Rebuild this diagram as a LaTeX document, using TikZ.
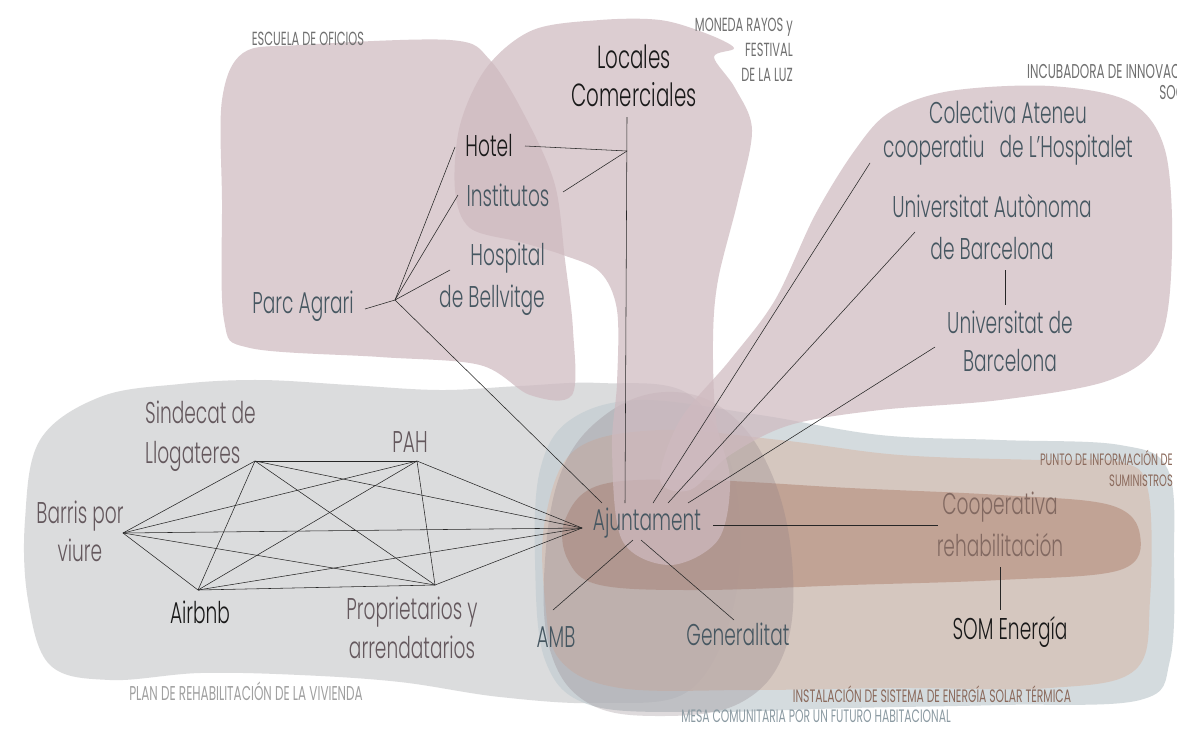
\documentclass[tikz,border=0pt]{standalone}
\usepackage{fontspec}
\setmainfont{Poppins Light}[FakeStretch=0.62]
\newfontfamily\capsfam{Poppins}[FakeStretch=0.6]
\definecolor{pinkb}{RGB}{207,186,192}
\definecolor{greyb}{RGB}{216,217,218}
\definecolor{blueb}{RGB}{196,206,210}
\definecolor{beigeb}{RGB}{214,192,180}
\definecolor{brownb}{RGB}{186,150,134}
\definecolor{darkb}{RGB}{140,125,132}
\definecolor{teal}{RGB}{70,87,97}
\definecolor{mauve}{RGB}{100,88,93}
\definecolor{coopc}{RGB}{130,105,97}
\definecolor{blk}{RGB}{25,25,25}
\definecolor{smallgrey}{RGB}{112,112,112}
\definecolor{smallbrown}{RGB}{139,106,92}
\definecolor{smallblue}{RGB}{140,155,163}
\definecolor{plangrey}{RGB}{160,160,160}
\begin{document}
\begin{tikzpicture}[x=1pt,y=-1pt,
  blob/.style={fill opacity=0.72},
  lbl/.style={font=\fontsize{30}{40}\selectfont, inner sep=0pt, align=center},
  small/.style={font=\capsfam\fontsize{18}{24}\selectfont, inner sep=0pt},
  link/.style={draw=black!85, line width=0.55pt}]
\useasboundingbox (0,0) rectangle (1177,729);
\clip (0,0) rectangle (1177,729);
\fill[white] (0,0) rectangle (1177,729);
% ---- blobs ----
\fill[greyb, fill opacity=0.9] plot[smooth cycle, tension=0.6] coordinates {(25,520) (40,440) (100,397) (180,384) (260,380) (350,385) (440,390) (520,386) (600,383) (690,395) (735,480) (735,600) (690,690) (600,703) (500,697) (400,682) (300,675) (200,673) (110,680) (50,665) (28,600)};
\fill[blueb, blob] plot[smooth cycle, tension=0.6] coordinates {(540,470) (570,420) (640,400) (760,415) (880,435) (1000,440) (1120,445) (1168,470) (1174,560) (1170,660) (1140,700) (1000,705) (850,708) (700,712) (590,705) (545,660) (535,560)};
\fill[beigeb, blob] plot[smooth cycle, tension=0.6] coordinates {(545,520) (575,450) (660,430) (780,440) (900,455) (1040,460) (1120,462) (1148,490) (1150,600) (1135,670) (1050,688) (900,688) (750,690) (620,688) (560,660) (545,600)};
\fill[brownb, blob] plot[smooth cycle, tension=0.6] coordinates {(565,520) (600,485) (700,480) (850,488) (1000,495) (1110,505) (1140,535) (1120,570) (1000,580) (850,585) (700,590) (600,585) (568,560)};
\fill[darkb, fill opacity=0.28] plot[smooth cycle, tension=0.65] coordinates {(545,560) (562,470) (605,415) (665,392) (725,410) (770,470) (792,560) (785,650) (740,703) (660,716) (588,703) (550,650)};
\fill[pinkb, blob] plot[smooth cycle, tension=0.55] coordinates {(222,100) (243,53) (300,45) (450,40) (490,60) (527,120) (555,185) (565,260) (573,330) (572,395) (530,395) (480,365) (380,357) (250,348) (224,320) (222,200)};
\fill[pinkb, blob] plot[smooth cycle, tension=0.55] coordinates {(487,67) (533,30) (600,20) (660,20) (705,33) (734,48) (714,57) (735,88) (752,130) (738,200) (718,280) (713,340) (716,420) (730,480) (718,540) (670,565) (622,540) (612,450) (617,383) (617,310) (600,272) (563,255) (520,242) (470,228) (455,190) (460,125)};
\fill[pinkb, blob] plot[smooth cycle, tension=0.55] coordinates {(855,150) (890,112) (950,91) (1050,86) (1130,102) (1165,150) (1172,250) (1160,340) (1110,380) (1000,400) (880,410) (790,425) (730,455) (690,490) (660,480) (680,420) (730,360) (775,300) (815,215)};
% ---- small labels ----
\node[small, text=smallgrey, font=\capsfam\fontsize{19}{24}\selectfont] (escuela) at (308,39) {ESCUELA DE OFICIOS};
\node[small, text=smallgrey, align=right, anchor=east, font=\capsfam\fontsize{19}{25}\selectfont] (moneda) at (793,50) {MONEDA RAYOS y\\FESTIVAL\\DE LA LUZ};
\node[small, text=smallgrey, align=right, anchor=west, font=\capsfam\fontsize{20}{21}\selectfont] (incub) at (1027,80) {INCUBADORA DE INNOVACIÓN\\SOCIAL};
\node[small, text=smallbrown, align=right, anchor=east, font=\capsfam\fontsize{16.5}{21}\selectfont] (punto) at (1173,468) {PUNTO DE INFORMACIÓN DE\\SUMINISTROS};
\node[small, text=smallbrown] (instal) at (932,694) {INSTALACIÓN DE SISTEMA DE ENERGÍA SOLAR TÉRMICA};
\node[small, text=smallblue] (mesa) at (816,716) {MESA COMUNITARIA POR UN FUTURO HABITACIONAL};
\node[small, text=plangrey, font=\capsfam\fontsize{20}{24}\selectfont] (plan) at (246,691) {PLAN DE REHABILITACIÓN DE LA VIVIENDA};
% ---- main labels ----
\node[lbl, text=blk, font=\fontsize{32}{38}\selectfont] (loc) at (634,76) {Locales\\Comerciales};
\node[lbl, text=blk] (hotel) at (489,146) {Hotel};
\node[lbl, text=teal] (inst) at (508,195) {Institutos};
\node[lbl, text=teal, align=right, anchor=east, font=\fontsize{30}{42}\selectfont] (hosp) at (545,279) {Hospital\\de Bellvitge};
\node[lbl, text=teal] (parc) at (303,306) {Parc Agrari};
\node[lbl, text=teal, font=\fontsize{30}{34}\selectfont] (colect) at (1008,133) {Colectiva Ateneu\\cooperatiu\enspace de L’Hospitalet};
\node[lbl, text=teal, font=\fontsize{30}{42}\selectfont] (uab) at (992,227) {Universitat Autònoma\\de Barcelona};
\node[lbl, text=teal, font=\fontsize{30}{38}\selectfont] (ub) at (1010,341) {Universitat de\\Barcelona};
\node[lbl, text=mauve, align=left, anchor=west] (sind) at (145,436) {Sindecat de\\Llogateres};
\node[lbl, text=mauve] (pah) at (410,442) {PAH};
\node[lbl, text=mauve, font=\fontsize{30}{38}\selectfont] (barris) at (80,531) {Barris por\\viure};
\node[lbl, text=blk] (airbnb) at (200,612) {Airbnb};
\node[lbl, text=mauve, font=\fontsize{30}{39}\selectfont] (prop) at (412,628) {Proprietarios y\\arrendatarios};
\node[lbl, text=teal] (ajunt) at (647,523) {Ajuntament};
\node[lbl, text=coopc, font=\fontsize{30}{42}\selectfont] (coop) at (1000,524) {Cooperativa\\rehabilitación};
\node[lbl, text=blk] (som) at (1010,632) {SOM Energía};
\node[lbl, text=teal] (amb) at (556,637) {AMB};
\node[lbl, text=teal] (gen) at (738,634) {Generalitat};
% ---- connector end points ----
\coordinate (hB) at (123,533);
\coordinate (hS) at (255,461);
\coordinate (hP) at (417,461);
\coordinate (hA) at (198,590);
\coordinate (hR) at (435,585);
\coordinate (hJ) at (582,528);
\coordinate (pH) at (395,300);
\coordinate (parE) at (365,309);
\coordinate (hotW) at (455,147);
\coordinate (insW) at (458,195);
\coordinate (hosW) at (450,270);
\coordinate (ajNW) at (602,503);
\coordinate (locS) at (627,117);
\coordinate (jLoc) at (627,151);
\coordinate (ajN) at (625,503);
\coordinate (hotE) at (525,146);
\coordinate (insE) at (563,192);
\coordinate (colS) at (870,163);
\coordinate (ajN1) at (653,503);
\coordinate (uabS) at (915,232);
\coordinate (ajN2) at (668,503);
\coordinate (ubW) at (935,347);
\coordinate (ajN3) at (688,503);
\coordinate (uabB) at (1005,270);
\coordinate (ubT) at (1005,305);
\coordinate (ajE) at (713,525);
\coordinate (coW) at (938,525);
\coordinate (coB) at (1000,567);
\coordinate (somT) at (1000,610);
\coordinate (ajS1) at (633,540);
\coordinate (ambT) at (553,610);
\coordinate (ajS2) at (641,540);
\coordinate (genT) at (734,620);
% ---- connectors ----
\foreach \a/\b in {hB/hS,hB/hP,hB/hA,hB/hR,hB/hJ,hS/hP,hS/hA,hS/hR,hS/hJ,hP/hA,hP/hR,hP/hJ,hA/hR,hA/hJ,hR/hJ}
  \draw[link] (\a) -- (\b);
\foreach \b in {parE,hotW,insW,hosW,ajNW}
  \draw[link] (pH) -- (\b);
\draw[link] (locS) -- (ajN);
\draw[link] (hotE) -- (jLoc);
\draw[link] (insE) -- (jLoc);
\draw[link] (colS) -- (ajN1);
\draw[link] (uabS) -- (ajN2);
\draw[link] (ubW) -- (ajN3);
\draw[link] (uabB) -- (ubT);
\draw[link] (ajE) -- (coW);
\draw[link] (coB) -- (somT);
\draw[link] (ajS1) -- (ambT);
\draw[link] (ajS2) -- (genT);
\end{tikzpicture}
\end{document}
